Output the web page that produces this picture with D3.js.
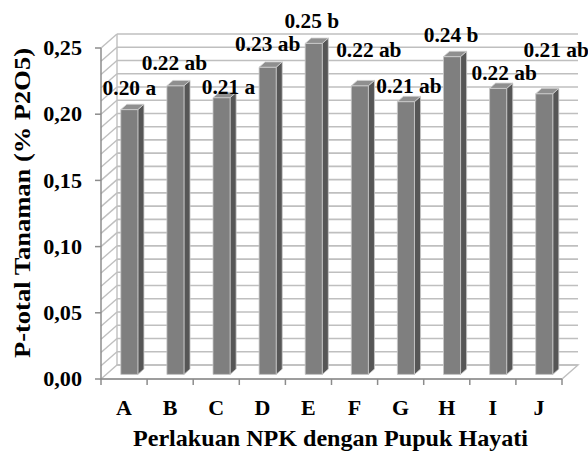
<!DOCTYPE html>
<html>
<head>
<meta charset="utf-8">
<script src="https://cdn.jsdelivr.net/npm/d3@7"></script>
<style>
  html, body { margin: 0; padding: 0; background: #fff; }
  svg { display: block; }
</style>
</head>
<body>
<svg id="chart" width="588" height="455"></svg>
<script>
// ---- data ----
const categories = ["A", "B", "C", "D", "E", "F", "G", "H", "I", "J"];
const values = [0.200, 0.218, 0.209, 0.232, 0.250, 0.218, 0.206, 0.240, 0.216, 0.212];
const valueLabels = ["0.20 a", "0.22 ab", "0.21 a", "0.23 ab", "0.25 b", "0.22 ab", "0.21 ab", "0.24 b", "0.22 ab", "0.21 ab"];
const yTicks = [0, 0.05, 0.10, 0.15, 0.20, 0.25];
const yTickLabels = ["0,00", "0,05", "0,10", "0,15", "0,20", "0,25"];
const gridValues = d3.range(0, 26).map(i => i / 100);
const xTitle = "Perlakuan NPK dengan Pupuk Hayati";
const yTitle = "P-total Tanaman (% P2O5)";

// ---- layout (label nudges placed manually as in the source chart) ----
const labelDx = [0, -1, 7, 0, -2, 9, 3, -1, 6, 12];
const labelLift = [22, 23, 11, 23, 22, 36, 16, 22, 15, 44];

const FONT = "'Liberation Serif', 'Times New Roman', serif";
const svg = d3.select("#chart");
const plotLeft = 101, plotRight = 562, plotBottom = 379, plotTop = 48;
const DX = 16, DY = 14; // 3D depth offset
const z0 = 0.33, z1 = 0.71;

const x = d3.scaleBand().domain(categories).range([plotLeft, plotRight]).paddingInner(0.63).paddingOuter(0.315);
const xc = d3.scaleBand().domain(categories).range([plotLeft, plotRight]);
const y = d3.scaleLinear().domain([0, 0.25]).range([plotBottom, plotTop]);

const P = (px, py, z) => [px + z * DX, py - z * DY];
const poly = pts => "M" + pts.map(p => p.join(",")).join("L") + "Z";

function label(sel, size, sx) {
  return sel.style("font-family", FONT).style("font-weight", "bold")
    .style("font-size", size + "px").attr("fill", "#000");
}

const wallColor = "#bfbfbf";
const g = svg.append("g");
g.selectAll(".grid").data(gridValues).join("line")
  .attr("x1", plotLeft + DX).attr("x2", plotRight + DX)
  .attr("y1", d => y(d) - DY).attr("y2", d => y(d) - DY)
  .attr("stroke", wallColor).attr("stroke-width", 1.6);
g.selectAll(".diag").data(gridValues.filter(d => d > 0)).join("line")
  .attr("x1", plotLeft).attr("y1", d => y(d))
  .attr("x2", plotLeft + DX).attr("y2", d => y(d) - DY)
  .attr("stroke", wallColor).attr("stroke-width", 1.4);
g.append("line").attr("x1", plotLeft + DX).attr("x2", plotLeft + DX)
  .attr("y1", y(0.25) - DY).attr("y2", y(0) - DY)
  .attr("stroke", wallColor).attr("stroke-width", 1.4);
g.append("path").attr("d", poly([P(plotLeft, y(0), 0), P(plotRight, y(0), 0), P(plotRight, y(0), 1), P(plotLeft, y(0), 1)]))
  .attr("fill", "none").attr("stroke", wallColor).attr("stroke-width", 1.4);

const ax = svg.append("g");
const axisColor = "#8c8c8c";
ax.append("line").attr("x1", plotLeft).attr("x2", plotLeft).attr("y1", y(0.25)).attr("y2", y(0))
  .attr("stroke", axisColor).attr("stroke-width", 1.5);
ax.append("line").attr("x1", plotLeft).attr("x2", plotRight).attr("y1", y(0)).attr("y2", y(0))
  .attr("stroke", axisColor).attr("stroke-width", 1.5);
ax.selectAll(".yt").data(yTicks).join("line")
  .attr("x1", plotLeft - 6).attr("x2", plotLeft).attr("y1", d => y(d)).attr("y2", d => y(d))
  .attr("stroke", axisColor).attr("stroke-width", 1.5);
const xTickPos = categories.map(c => xc(c)).concat([plotRight]);
ax.selectAll(".xt").data(xTickPos).join("line")
  .attr("x1", d => d).attr("x2", d => d).attr("y1", y(0)).attr("y2", y(0) + 6)
  .attr("stroke", axisColor).attr("stroke-width", 1.5);

// y tick labels
label(ax.selectAll(".ytl").data(yTicks).join("text"), 20.5)
  .attr("transform", d => `translate(82,${y(d)}) scale(1.08,1)`)
  .attr("dy", "0.35em").attr("text-anchor", "end")
  .text((d, i) => yTickLabels[i]);
// category labels
label(ax.selectAll(".xtl").data(categories).join("text"), 22)
  .attr("transform", d => `translate(${xc(d) + xc.bandwidth() / 2},415)`)
  .attr("text-anchor", "middle")
  .text(d => d);

// axis titles
label(svg.append("text"), 22.5).attr("x", 133).attr("y", 446)
  .attr("textLength", 395).attr("lengthAdjust", "spacingAndGlyphs").text(xTitle);
label(svg.append("text"), 22.5).attr("transform", "translate(30,358) rotate(-90)")
  .attr("textLength", 310).attr("lengthAdjust", "spacingAndGlyphs").text(yTitle);

// bars
const bars = svg.append("g");
categories.forEach((c, i) => {
  const v = values[i];
  const x0 = x(c), x1 = x0 + x.bandwidth();
  const yt = y(v), yb = y(0);
  bars.append("path").attr("d", poly([P(x1, yt, z0), P(x1, yt, z1), P(x1, yb, z1), P(x1, yb, z0)]))
    .attr("fill", "#565656").attr("stroke", "#c8c8c8").attr("stroke-width", 0.8);
  bars.append("path").attr("d", poly([P(x0, yt, z0), P(x1, yt, z0), P(x1, yb, z0), P(x0, yb, z0)]))
    .attr("fill", "#7f7f7f").attr("stroke", "#c8c8c8").attr("stroke-width", 0.8);
  bars.append("path").attr("d", poly([P(x0, yt, z0), P(x1, yt, z0), P(x1, yt, z1), P(x0, yt, z1)]))
    .attr("fill", "#8f8f8f").attr("stroke", "#d0d0d0").attr("stroke-width", 0.8);
});

// value labels
label(svg.append("g").selectAll("text").data(categories).join("text"), 20)
  .attr("transform", (c, i) => `translate(${x(c) + x.bandwidth() / 2 + z0 * DX + labelDx[i]},${y(values[i]) - z0 * DY - labelLift[i]}) scale(1.07,1)`)
  .attr("dy", "0.35em").attr("text-anchor", "middle")
  .text((c, i) => valueLabels[i]);
</script>
</body>
</html>
